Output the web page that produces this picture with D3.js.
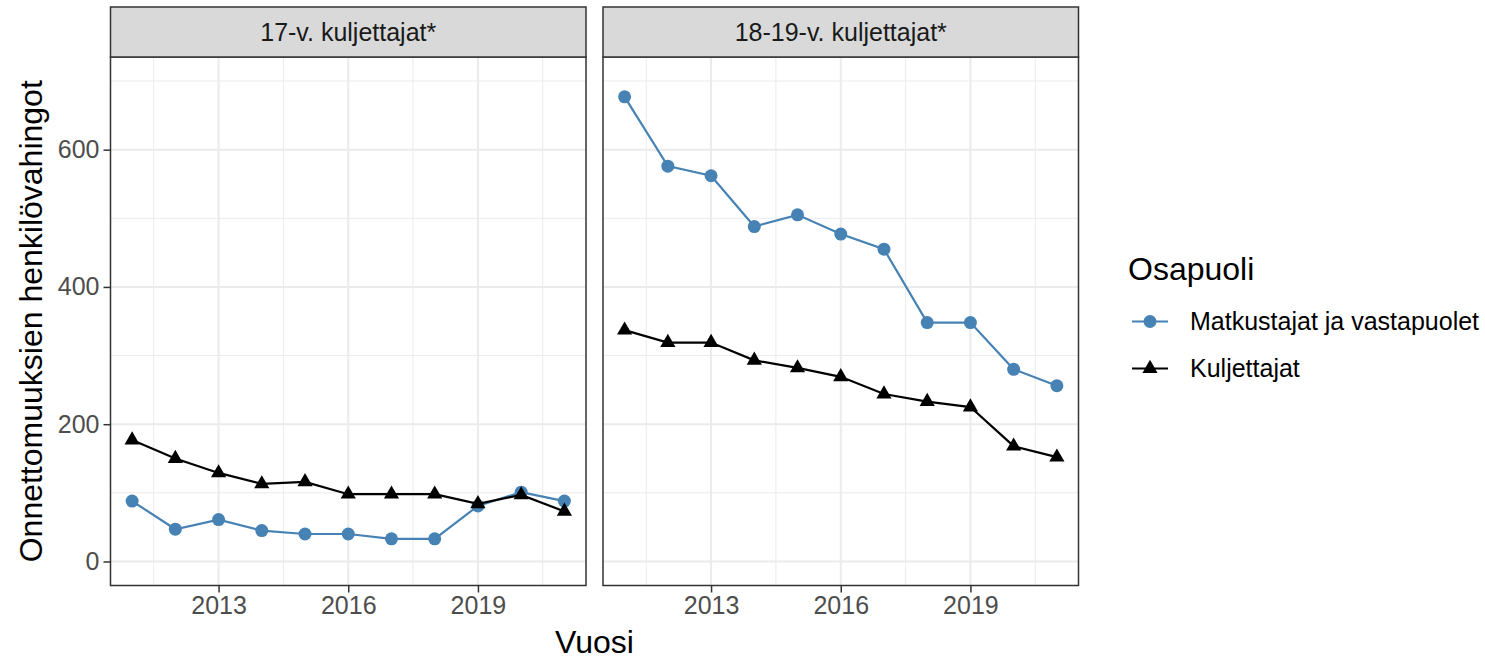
<!DOCTYPE html>
<html>
<head>
<meta charset="utf-8">
<script src="https://d3js.org/d3.v7.min.js"></script>
<style>
body { margin: 0; background: #fff; }
svg { font-family: "Liberation Sans", Arial, sans-serif; }
.grid-major { stroke: #ebebeb; stroke-width: 2; }
.grid-minor { stroke: #ebebeb; stroke-width: 1; }
.tick-label { fill: #4d4d4d; font-size: 25px; }
.axis-title { fill: #000; font-size: 32px; }
.strip-text { fill: #1a1a1a; font-size: 25px; }
</style>
</head>
<body>
<svg width="1485" height="661"></svg>
<script>

var years = [2011, 2012, 2013, 2014, 2015, 2016, 2017, 2018, 2019, 2020, 2021];
var panels = ["17-v. kuljettajat*", "18-19-v. kuljettajat*"];
var seriesNames = ["Matkustajat ja vastapuolet", "Kuljettajat"];

// 17-v.
var matkustajat17 = [88, 47, 61, 45, 40, 40, 33, 33, 81, 101, 88];
var kuljettajat17 = [177, 150, 129, 113, 116, 98, 98, 98, 84, 97, 73];
// 18-19-v.
var matkustajat1819 = [677, 576, 562, 488, 505, 477, 455, 348, 348, 280, 256];
var kuljettajat1819 = [337, 319, 319, 293, 282, 269, 244, 233, 225, 168, 152];

var xTicks = [2013, 2016, 2019];
var yTicks = [0, 200, 400, 600];
var yMinor = [100, 300, 500, 700];

var svg = d3.select("svg");

var panelTop = 57, panelBottom = 585.5, stripTop = 7;
var panelX = [[110.5, 586], [603, 1078.5]];
var colors = ["#4682b4", "#000000"];

var y = d3.scaleLinear().domain([-35, 735]).range([panelBottom, panelTop]);

var data = [
  [matkustajat17, kuljettajat17],
  [matkustajat1819, kuljettajat1819]
];

var tri = d3.symbol().type(d3.symbolTriangle).size(100);

panels.forEach(function(name, i) {
  var x = d3.scaleLinear().domain([2010.5, 2021.5]).range(panelX[i]);
  var g = svg.append("g");
  var x0 = panelX[i][0], x1 = panelX[i][1];

  // minor grid
  var xMinor = xTicks.map(function(t) { return t - 1.5; }).concat([xTicks[2] + 1.5]);
  g.selectAll(".vmin").data(xMinor).enter().append("line")
      .attr("class", "grid-minor")
      .attr("x1", function(d) { return x(d); }).attr("x2", function(d) { return x(d); })
      .attr("y1", panelTop).attr("y2", panelBottom);
  g.selectAll(".hmin").data(yMinor).enter().append("line")
      .attr("class", "grid-minor")
      .attr("x1", x0).attr("x2", x1)
      .attr("y1", function(d) { return y(d); }).attr("y2", function(d) { return y(d); });
  // major grid
  g.selectAll(".vmaj").data(xTicks).enter().append("line")
      .attr("class", "grid-major")
      .attr("x1", function(d) { return x(d); }).attr("x2", function(d) { return x(d); })
      .attr("y1", panelTop).attr("y2", panelBottom);
  g.selectAll(".hmaj").data(yTicks).enter().append("line")
      .attr("class", "grid-major")
      .attr("x1", x0).attr("x2", x1)
      .attr("y1", function(d) { return y(d); }).attr("y2", function(d) { return y(d); });

  // lines + points
  data[i].forEach(function(vals, s) {
    var pts = years.map(function(yr, k) { return [yr, vals[k]]; });
    g.append("path")
        .datum(pts)
        .attr("fill", "none")
        .attr("stroke", colors[s])
        .attr("stroke-width", 2.2)
        .attr("d", d3.line().x(function(d) { return x(d[0]); }).y(function(d) { return y(d[1]); }));
    if (s === 0) {
      g.selectAll(".pt" + s).data(pts).enter().append("circle")
          .attr("cx", function(d) { return x(d[0]); })
          .attr("cy", function(d) { return y(d[1]); })
          .attr("r", 6.5)
          .attr("fill", colors[s]);
    } else {
      g.selectAll(".pt" + s).data(pts).enter().append("path")
          .attr("d", tri)
          .attr("transform", function(d) { return "translate(" + x(d[0]) + "," + y(d[1]) + ")"; })
          .attr("fill", colors[s]);
    }
  });

  // panel border
  g.append("rect")
      .attr("x", x0).attr("y", panelTop)
      .attr("width", x1 - x0).attr("height", panelBottom - panelTop)
      .attr("fill", "none").attr("stroke", "#333333").attr("stroke-width", 1.5);

  // strip
  g.append("rect")
      .attr("x", x0).attr("y", stripTop)
      .attr("width", x1 - x0).attr("height", panelTop - stripTop)
      .attr("fill", "#d9d9d9").attr("stroke", "#333333").attr("stroke-width", 1.5);
  g.append("text")
      .attr("class", "strip-text")
      .attr("x", (x0 + x1) / 2).attr("y", (stripTop + panelTop) / 2)
      .attr("dy", "0.35em")
      .attr("text-anchor", "middle")
      .text(name);

  // x axis
  var xa = svg.append("g")
      .attr("transform", "translate(0," + panelBottom + ")")
      .call(d3.axisBottom(x).tickValues(xTicks).tickFormat(d3.format("d")).tickSize(7).tickPadding(4));
  xa.select(".domain").remove();
  xa.selectAll("line").attr("stroke", "#333333").attr("stroke-width", 1.5);
  xa.selectAll("text").attr("class", "tick-label").attr("font-family", null).attr("font-size", null).attr("fill", null);

  if (i === 0) {
    var ya = svg.append("g")
        .attr("transform", "translate(" + x0 + ",0)")
        .call(d3.axisLeft(y).tickValues(yTicks).tickSize(7).tickPadding(4));
    ya.select(".domain").remove();
    ya.selectAll("line").attr("stroke", "#333333").attr("stroke-width", 1.5);
    ya.selectAll("text").attr("class", "tick-label").attr("font-family", null).attr("font-size", null).attr("fill", null);
  }
});

// axis titles
svg.append("text")
    .attr("class", "axis-title")
    .attr("x", (panelX[0][0] + panelX[1][1]) / 2).attr("y", 653)
    .attr("text-anchor", "middle")
    .text("Vuosi");
svg.append("text")
    .attr("class", "axis-title")
    .attr("transform", "translate(42," + ((panelTop + panelBottom) / 2) + ") rotate(-90)")
    .attr("text-anchor", "middle")
    .text("Onnettomuuksien henkilövahingot");

// legend
var lg = svg.append("g");
lg.append("text")
    .attr("class", "axis-title")
    .attr("x", 1128).attr("y", 280)
    .text("Osapuoli");
seriesNames.forEach(function(name, s) {
  var cy = 321.5 + s * 47;
  lg.append("line")
      .attr("x1", 1132).attr("x2", 1168)
      .attr("y1", cy).attr("y2", cy)
      .attr("stroke", colors[s]).attr("stroke-width", 2.2);
  if (s === 0) {
    lg.append("circle").attr("cx", 1150).attr("cy", cy).attr("r", 6.5).attr("fill", colors[s]);
  } else {
    lg.append("path").attr("d", tri).attr("transform", "translate(1150," + cy + ")").attr("fill", colors[s]);
  }
  lg.append("text")
      .attr("class", "strip-text")
      .attr("x", 1190).attr("y", cy)
      .attr("dy", "0.35em")
      .style("fill", "#000")
      .text(name);
});

</script>
</body>
</html>
